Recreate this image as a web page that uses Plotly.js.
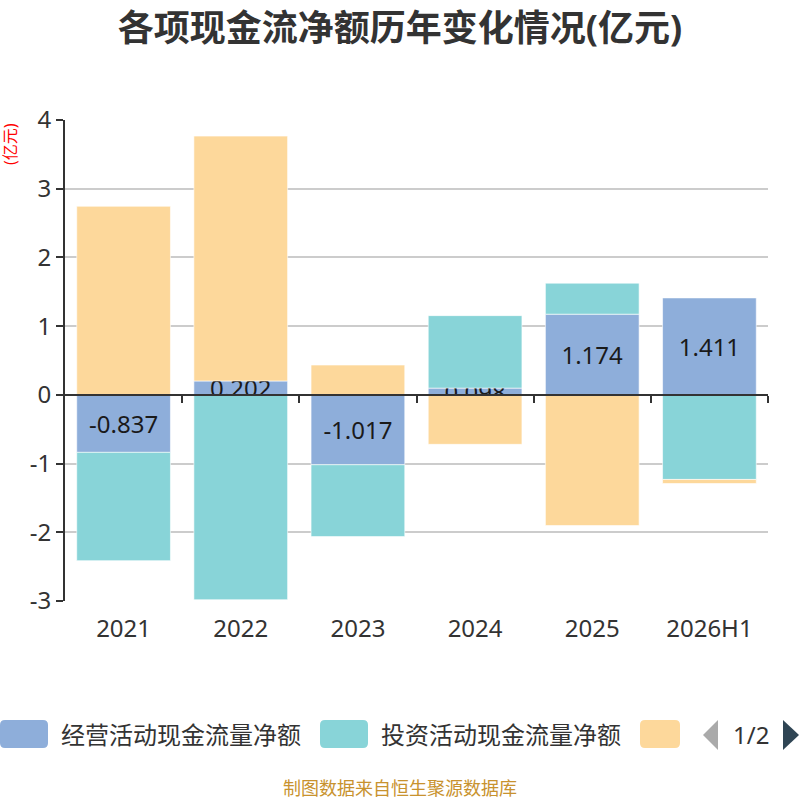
<!DOCTYPE html>
<html>
<head>
<meta charset="utf-8">
<script src="https://cdn.plot.ly/plotly-3.0.1.min.js"></script>
<style>
  html, body { margin: 0; padding: 0; background: #fff; }
  #chart { width: 800px; height: 800px; }
</style>
</head>
<body>
<div id="chart"></div>
<script>
// data
var years = ['2021', '2022', '2023', '2024', '2025', '2026H1'];
var seriesNames = ['经营活动现金流量净额', '投资活动现金流量净额', '筹资活动现金流量净额'];
var operating = [-0.837, 0.202, -1.017, 0.098, 1.174, 1.411];
var investing = [-1.576, -2.982, -1.046, 1.055, 0.452, -1.231];
var financing = [2.745, 3.564, 0.434, -0.720, -1.902, -0.059];
var yTicks = [-3, -2, -1, 0, 1, 2, 3, 4];
var yTickText = ['-3', '-2', '-1', '0', '1', '2', '3', '4'];

var colors = ['#8eaeda', '#88d4d8', '#fdd89b'];
var font = 'Noto Sans, Noto Sans CJK SC, sans-serif';
var yMin = -3, yMax = 4;

var barLine = { color: 'rgba(255,255,255,0.6)', width: 1 };

var data = [{
  type: 'bar',
  name: seriesNames[0],
  x: years,
  y: operating,
  marker: { color: colors[0], line: barLine },
  text: operating.map(function (v) { return String(v); }),
  textposition: 'inside',
  insidetextanchor: 'middle',
  textangle: 0,
  textfont: { family: font, size: 24, color: '#1a1a1a' },
  hoverinfo: 'x+y+name'
}, {
  type: 'bar',
  name: seriesNames[1],
  x: years,
  y: investing,
  marker: { color: colors[1], line: barLine },
  hoverinfo: 'x+y+name'
}, {
  type: 'bar',
  name: seriesNames[2],
  x: years,
  y: financing,
  marker: { color: colors[2], line: barLine },
  hoverinfo: 'x+y+name'
}, {
  // empty trace so the zero axis (x2) gets drawn
  type: 'scatter',
  x: [],
  y: [],
  xaxis: 'x2',
  yaxis: 'y',
  showlegend: false,
  hoverinfo: 'skip'
}];

// legend drawn by hand (the original one is paged, 1/2)
function roundRect(x0, y0, w, h, r) {
  return 'M' + (x0 + r) + ',' + y0 +
    ' L' + (x0 + w - r) + ',' + y0 +
    ' Q' + (x0 + w) + ',' + y0 + ' ' + (x0 + w) + ',' + (y0 - r) +
    ' L' + (x0 + w) + ',' + (y0 - h + r) +
    ' Q' + (x0 + w) + ',' + (y0 - h) + ' ' + (x0 + w - r) + ',' + (y0 - h) +
    ' L' + (x0 + r) + ',' + (y0 - h) +
    ' Q' + x0 + ',' + (y0 - h) + ' ' + x0 + ',' + (y0 - h + r) +
    ' L' + x0 + ',' + (y0 - r) +
    ' Q' + x0 + ',' + y0 + ' ' + (x0 + r) + ',' + y0 + ' Z';
}

var ml = 65, mb = 199;
var base = 800 - mb; // pixel row of the plot bottom
var shapes = [];
var annotations = [];
var swatchW = [48, 48, 40];
for (var i = 0; i < 3; i++) {
  var px = i * 320;
  shapes.push({
    type: 'path', xref: 'paper', yref: 'paper',
    xsizemode: 'pixel', ysizemode: 'pixel', xanchor: 0, yanchor: 0,
    path: roundRect(px - ml, -(720 - base), swatchW[i], 28, 5),
    fillcolor: colors[i], line: { width: 0 }
  });
  if (i < 2) {
    annotations.push({
      xref: 'paper', yref: 'paper', x: 0, y: 0,
      xshift: px + 59 - ml, yshift: -(734 - base),
      xanchor: 'left', yanchor: 'middle', showarrow: false,
      text: seriesNames[i], font: { family: font, size: 24, color: '#333' }
    });
  }
}
// pager arrows
shapes.push({
  type: 'path', xref: 'paper', yref: 'paper',
  xsizemode: 'pixel', ysizemode: 'pixel', xanchor: 0, yanchor: 0,
  path: 'M' + (718 - ml) + ',' + -(720 - base) + ' L' + (703 - ml) + ',' + -(735 - base) +
    ' L' + (718 - ml) + ',' + -(750 - base) + ' Z',
  fillcolor: '#aaaaaa', line: { width: 0 }
});
shapes.push({
  type: 'path', xref: 'paper', yref: 'paper',
  xsizemode: 'pixel', ysizemode: 'pixel', xanchor: 0, yanchor: 0,
  path: 'M' + (783 - ml) + ',' + -(720 - base) + ' L' + (799 - ml) + ',' + -(735 - base) +
    ' L' + (783 - ml) + ',' + -(750 - base) + ' Z',
  fillcolor: '#2f4554', line: { width: 0 }
});
annotations.push({
  xref: 'paper', yref: 'paper', x: 0, y: 0,
  xshift: 751 - ml, yshift: -(734 - base),
  xanchor: 'center', yanchor: 'middle', showarrow: false,
  text: '1/2', font: { family: font, size: 24, color: '#333' }
});
// unit label
annotations.push({
  xref: 'paper', yref: 'paper', x: 0, y: 1,
  xshift: 10 - ml, yshift: -24,
  xanchor: 'center', yanchor: 'middle', showarrow: false, textangle: -90,
  text: '(亿元)', font: { family: font, size: 16, color: '#ff0000' }
});
// source
annotations.push({
  xref: 'paper', yref: 'paper', x: 0, y: 0,
  xshift: 400 - ml, yshift: -(788 - base),
  xanchor: 'center', yanchor: 'middle', showarrow: false,
  text: '制图数据来自恒生聚源数据库', font: { family: font, size: 18, color: '#c8922e' }
});

var layout = {
  width: 800,
  height: 800,
  margin: { l: ml, r: 32, t: 120, b: mb },
  paper_bgcolor: '#fff',
  plot_bgcolor: '#fff',
  showlegend: false,
  barmode: 'relative',
  bargap: 0.2,
  uniformtext: { mode: 'show', minsize: 24 },
  font: { family: font, color: '#333' },
  title: {
    text: '<b>各项现金流净额历年变化情况(亿元)</b>',
    font: { family: font, size: 36, color: '#333' },
    x: 0.5, xref: 'container', xanchor: 'center',
    y: 1 - 28 / 800, yref: 'container', yanchor: 'middle'
  },
  xaxis: {
    type: 'category',
    showline: false,
    showgrid: false,
    zeroline: false,
    ticks: 'outside', ticklen: 6, tickcolor: 'rgba(0,0,0,0)',
    tickfont: { family: font, size: 24, color: '#333' }
  },
  xaxis2: {
    overlaying: 'x',
    anchor: 'free',
    position: (0 - yMin) / (yMax - yMin),
    range: [-0.5, years.length - 0.5],
    showgrid: false, zeroline: false,
    showline: true, linecolor: '#333', linewidth: 2,
    tickmode: 'array',
    tickvals: years.map(function (d, i) { return i + 0.5; }),
    ticks: 'outside', ticklen: 7, tickwidth: 2, tickcolor: '#333',
    showticklabels: false,
    fixedrange: true
  },
  yaxis: {
    range: [yMin, yMax],
    tickmode: 'array',
    tickvals: yTicks,
    ticktext: yTickText,
    showgrid: true, gridcolor: '#cccccc', gridwidth: 1.5,
    zeroline: false,
    showline: true, linecolor: '#333', linewidth: 2,
    ticks: 'outside', ticklen: 7, tickwidth: 2, tickcolor: '#333',
    tickfont: { family: font, size: 24, color: '#333' }
  },
  shapes: shapes,
  annotations: annotations
};

Plotly.newPlot('chart', data, layout, { displayModeBar: false });
</script>
</body>
</html>
